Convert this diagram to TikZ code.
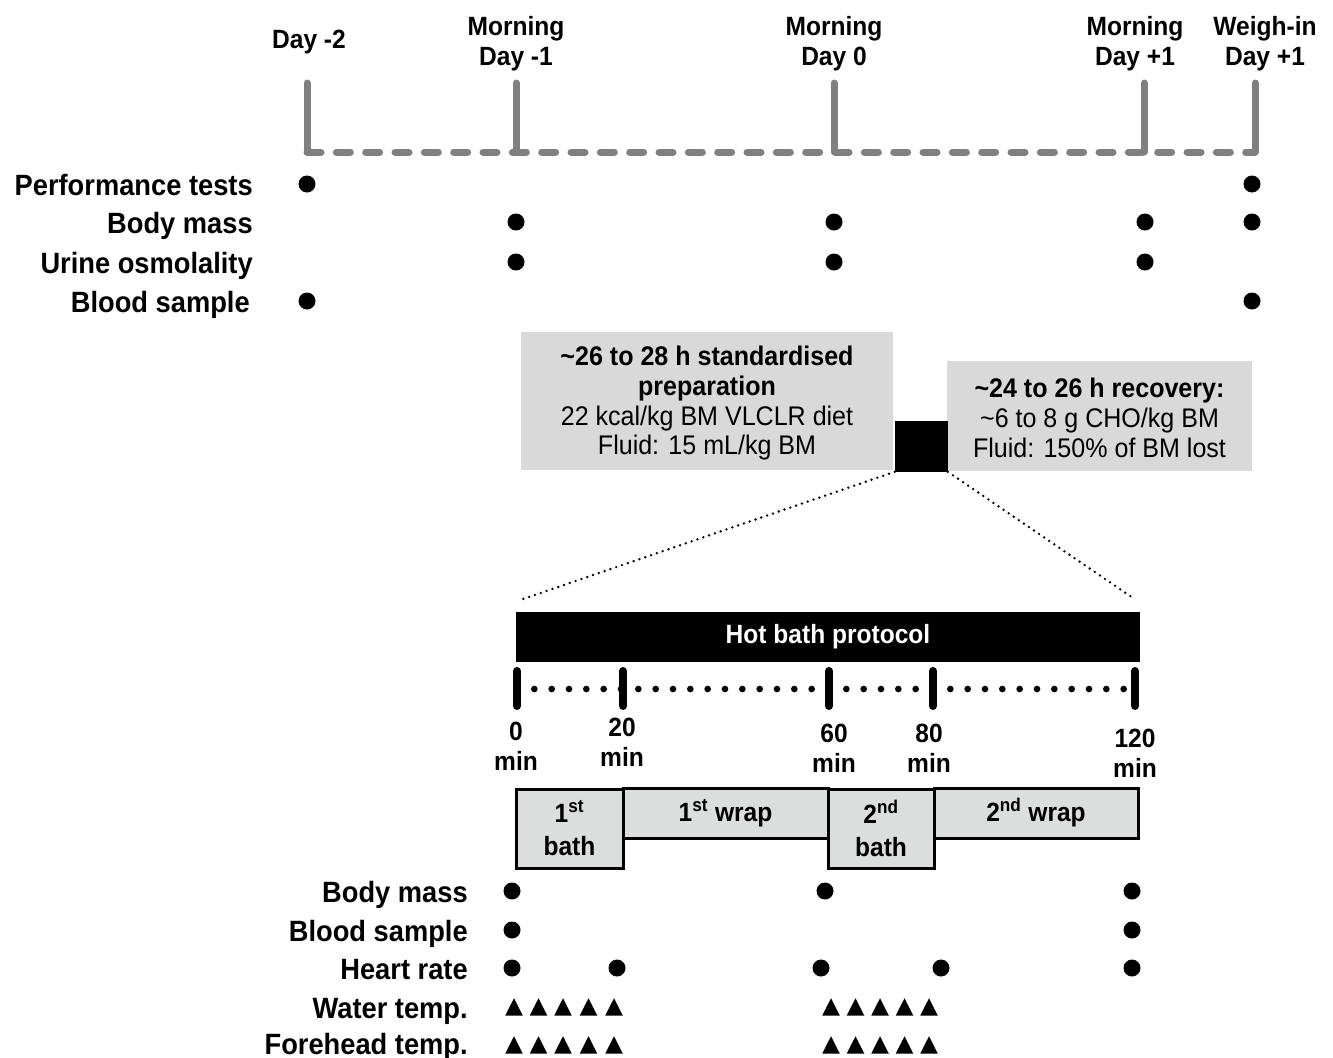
\documentclass[tikz,border=0pt]{standalone}
\usepackage{fontspec}
\setmainfont{Liberation Sans}[FakeStretch=0.93]
\definecolor{tlgray}{RGB}{128,128,128}
\definecolor{boxgray}{RGB}{217,217,217}
\definecolor{phasegray}{RGB}{220,221,221}
\begin{document}
\begin{tikzpicture}[x=0.75pt,y=-0.75pt,
  rowlab/.style={anchor=base east, inner sep=0pt, font=\fontsize{22}{24}\selectfont\bfseries},
  toplab/.style={anchor=north, align=center, inner sep=0pt, font=\fontsize{19.8}{22.5}\selectfont\bfseries},
  minlab/.style={anchor=north, align=center, inner sep=0pt, font=\fontsize{19.8}{22.5}\selectfont\bfseries},
  dot/.style={circle, fill=black, inner sep=0pt, minimum size=12.75pt},
  tltick/.style={line width=5.25pt, draw=tlgray, line cap=round, line join=round},
  tldash/.style={tltick, dash pattern=on 10.5pt off 11.5pt},
  graybox/.style={fill=boxgray, inner sep=0pt, align=center, font=\fontsize{20.2}{22.3}\selectfont},
  phase/.style={draw=black, line width=2.25pt, fill=phasegray, inner sep=0pt, align=center, font=\fontsize{19.8}{24.75}\selectfont\bfseries},
  bticks/.style={line width=6pt, line cap=round},
  bdots/.style={line width=5pt, line cap=round, dash pattern=on 0pt off 13pt},
  zoomline/.style={line width=2pt, line cap=round, dash pattern=on 0pt off 4.6pt},
  tri/.pic={\fill[black] (-8.75,8.5) -- (8.75,8.5) -- (0,-8.75) -- cycle;}
]
\useasboundingbox (0,0) rectangle (1333,1057);

% ---------- top timeline ----------
\coordinate (d2b) at (307,152);  \coordinate (d2t) at (307,83);
\coordinate (m1b) at (516,152);  \coordinate (m1t) at (516,83);
\coordinate (d0b) at (834,152);  \coordinate (d0t) at (834,83);
\coordinate (p1b) at (1144,152); \coordinate (p1t) at (1144,83);
\coordinate (wib) at (1255,152); \coordinate (wit) at (1255,83);

\draw[tldash] (d2b) -- (wib);
\draw[tltick] (d2t) -- (d2b);
\draw[tltick] (m1t) -- (m1b);
\draw[tltick] (d0t) -- (d0b);
\draw[tltick] (p1t) -- (p1b);
\draw[tltick] (wit) -- (wib);

\node[toplab, anchor=base] (ld2) at (309,48) {Day -2};
\node[toplab] (lm1) at (516,16.5) {Morning\\Day -1};
\node[toplab] (ld0) at (834,16.5) {Morning\\Day 0};
\node[toplab] (lp1) at (1135,16.5) {Morning\\Day +1};
\node[toplab] (lwi) at (1265,16.5) {Weigh-in\\Day +1};

% ---------- upper rows ----------
\node[rowlab] (rperf) at (253,195) {Performance tests};
\node[rowlab] (rbm)   at (253,233) {Body mass};
\node[rowlab] (ruo)   at (253,273) {Urine osmolality};
\node[rowlab] (rbs)   at (250,312) {Blood sample};

\node[dot] (pf1) at (307,184) {};
\node[dot] (pf2) at (1252,184) {};
\node[dot] (bm1) at (516,222) {};
\node[dot] (bm2) at (834,222) {};
\node[dot] (bm3) at (1145,222) {};
\node[dot] (bm4) at (1252,222) {};
\node[dot] (uo1) at (516,262) {};
\node[dot] (uo2) at (834,262) {};
\node[dot] (uo3) at (1145,262) {};
\node[dot] (bs1) at (307,301) {};
\node[dot] (bs2) at (1252,301) {};

% ---------- boxes ----------
\node[graybox, minimum width=279pt, minimum height=103.5pt] (prep) at (707,401)
  {};
\node[graybox, anchor=north] (preptxt) at (707,346)
  {\textbf{\textasciitilde26 to 28 h standardised}\\\textbf{preparation}\\22 kcal/kg BM VLCLR diet\\Fluid: 15 mL/kg BM};
\node[graybox, minimum width=228.75pt, minimum height=82.5pt] (rec) at (1099.5,416) {};
\node[graybox, anchor=north] (rectxt) at (1099.5,378)
  {\textbf{\textasciitilde24 to 26 h recovery:}\\\textasciitilde6 to 8 g CHO/kg BM\\Fluid: 150\% of BM lost};
\node[fill=black, inner sep=0pt, minimum width=39.4pt, minimum height=38pt] (sq) at (921.3,446.2) {};

% ---------- zoom lines ----------
\coordinate (zl) at (523,599);
\coordinate (zr) at (1133,598);
\draw[zoomline] (sq.south west) -- (zl);
\draw[zoomline] (sq.south east) -- (zr);

% ---------- hot bath protocol ----------
\node[fill=black, text=white, inner sep=0pt, minimum width=468pt, minimum height=37.9pt,
      font=\fontsize{19.8}{22.5}\selectfont\bfseries] (hb) at (828,637) {Hot bath protocol};

\coordinate (t0)   at (517,689);
\coordinate (t20)  at (623,689);
\coordinate (t60)  at (829,689);
\coordinate (t80)  at (933,689);
\coordinate (t120) at (1135,689);
\draw[bdots] (t0) -- (t120);
\foreach \c in {t0,t20,t60,t80,t120}
  \draw[bticks] ([yshift=13.5pt]\c) -- ([yshift=-12.75pt]\c);

\node[minlab] (m0)   at (516,722) {0\\min};
\node[minlab] (m20)  at (622,718) {20\\min};
\node[minlab] (m60)  at (834,724) {60\\min};
\node[minlab] (m80)  at (929,724) {80\\min};
\node[minlab] (m120) at (1135,729) {120\\min};

% ---------- phases ----------
\node[phase, minimum width=80.25pt, minimum height=59.25pt] (bath1) at (569.5,828.5) {1\textsuperscript{st}\\bath};
\node[phase, minimum width=153.75pt, minimum height=37.5pt] (wrap1) at (725.5,813) {1\textsuperscript{st} wrap};
\node[phase, minimum width=79.5pt, minimum height=59.25pt] (bath2) at (881,828.5) {2\textsuperscript{nd}\\bath};
\node[phase, minimum width=153pt, minimum height=37.5pt] (wrap2) at (1036,813) {2\textsuperscript{nd} wrap};

% ---------- lower rows ----------
\node[rowlab] (lbm) at (468,902) {Body mass};
\node[rowlab] (lbs) at (468,941) {Blood sample};
\node[rowlab] (lhr) at (468,979) {Heart rate};
\node[rowlab] (lwt) at (468,1018) {Water temp.};
\node[rowlab] (lft) at (468,1054) {Forehead temp.};

\node[dot] (lb1) at (512,891) {};
\node[dot] (lb2) at (825,891) {};
\node[dot] (lb3) at (1132,891) {};
\node[dot] (ls1) at (512,930) {};
\node[dot] (ls2) at (1132,930) {};
\node[dot] (h1) at (512,968) {};
\node[dot] (h2) at (617,968) {};
\node[dot] (h3) at (821,968) {};
\node[dot] (h4) at (941,968) {};
\node[dot] (h5) at (1132,968) {};

\foreach \x in {514,538.5,563,588.5,614,831,855.5,880,904.5,929} {
  \pic at (\x,1007) {tri};
  \pic at (\x,1045) {tri};
}
\end{tikzpicture}
\end{document}
